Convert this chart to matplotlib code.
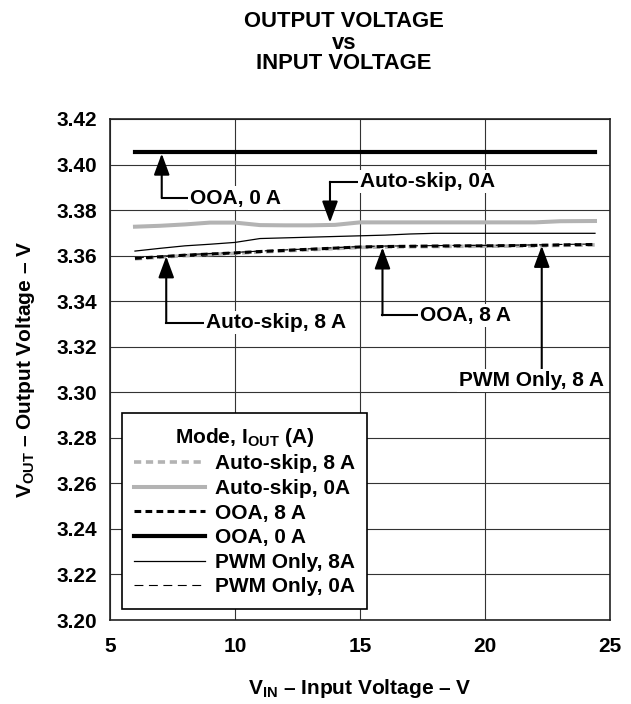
import matplotlib
matplotlib.use("Agg")
import matplotlib.pyplot as plt

# data
vin = [6, 7, 8, 9, 10, 11, 12, 13, 14, 15, 16, 17, 18, 19, 20, 21, 22, 23, 24.4]

autoskip_0a = [3.3727, 3.3731, 3.3737, 3.3745, 3.3745, 3.3734, 3.3733, 3.3733, 3.3735, 3.3746,
               3.3746, 3.3746, 3.3746, 3.3746, 3.3746, 3.3746, 3.3746, 3.3751, 3.3752]
autoskip_8a = [3.3586, 3.3593, 3.3600, 3.3605, 3.3610, 3.3616, 3.3621, 3.3626, 3.3631, 3.3636,
               3.3638, 3.3639, 3.3640, 3.3641, 3.3641, 3.3642, 3.3643, 3.3645, 3.3647]
ooa_8a = [3.3588, 3.3595, 3.3602, 3.3607, 3.3612, 3.3618, 3.3623, 3.3628, 3.3633, 3.3638,
          3.3640, 3.3641, 3.3642, 3.3643, 3.3643, 3.3644, 3.3645, 3.3647, 3.3649]
ooa_0a = [3.4053] * len(vin)
pwm_8a = [3.3620, 3.3632, 3.3643, 3.3650, 3.3658, 3.3675, 3.3678, 3.3681, 3.3684, 3.3687,
          3.3690, 3.3695, 3.3698, 3.3698, 3.3698, 3.3698, 3.3698, 3.3698, 3.3698]
pwm_0a = [3.3590, 3.3597, 3.3604, 3.3609, 3.3614, 3.3620, 3.3625, 3.3630, 3.3635, 3.3640,
          3.3642, 3.3643, 3.3644, 3.3645, 3.3645, 3.3646, 3.3647, 3.3649, 3.3651]

x_ticks = [5, 10, 15, 20, 25]
y_ticks = [3.20, 3.22, 3.24, 3.26, 3.28, 3.30, 3.32, 3.34, 3.36, 3.38, 3.40, 3.42]

# callouts: label, text pos, elbow corner, arrow tip
callouts = [
    ("OOA, 0 A", (8.2, 3.3853), (7.07, 3.3853), (7.07, 3.4048), "left"),
    ("Auto-skip, 0A", (15.0, 3.3924), (13.8, 3.3924), (13.8, 3.3745), "left"),
    ("Auto-skip, 8 A", (8.85, 3.3305), (7.25, 3.3305), (7.25, 3.3597), "left"),
    ("OOA, 8 A", (17.4, 3.3338), (15.9, 3.3338), (15.9, 3.3636), "left"),
    ("PWM Only, 8 A", (24.75, 3.3053), (22.27, 3.3095), (22.27, 3.3643), "right"),
]

plt.rcParams["font.family"] = ["Liberation Sans", "DejaVu Sans"]
plt.rcParams["font.weight"] = "bold"
plt.rcParams["mathtext.fontset"] = "custom"
plt.rcParams["mathtext.rm"] = "Liberation Sans:bold"
plt.rcParams["mathtext.it"] = "Liberation Sans:bold"
plt.rcParams["mathtext.bf"] = "Liberation Sans:bold"

fs = 15

fig = plt.figure(figsize=(6.31, 7.04), dpi=100)
ax = fig.add_axes([0.1743, 0.1193, 0.7924, 0.7117])

gray = "#b3b3b3"
ax.plot(vin, autoskip_8a, color=gray, lw=2.6, dashes=(2, 1.3), label="Auto-skip, 8 A", zorder=3)
ax.plot(vin, autoskip_0a, color=gray, lw=2.9, label="Auto-skip, 0A", zorder=3)
ax.plot(vin, ooa_8a, color="black", lw=2.2, dashes=(2.2, 1.4), label="OOA, 8 A", zorder=4)
ax.plot(vin, ooa_0a, color="black", lw=3.0, label="OOA, 0 A", zorder=4)
ax.plot(vin, pwm_8a, color="black", lw=0.9, label="PWM Only, 8A", zorder=4)
ax.plot(vin, pwm_0a, color="black", lw=0.8, dashes=(8, 5), label="PWM Only, 0A", zorder=4)

for label, tpos, corner, tip, ha in callouts:
    ax.plot([tpos[0], corner[0]] if ha == "left" else [corner[0], corner[0]],
            [tpos[1], corner[1]], color="black", lw=1.5, zorder=5)
    ax.annotate("", xy=tip, xytext=corner,
                arrowprops=dict(arrowstyle="-|>,head_length=1.3,head_width=0.48",
                                color="black", lw=1.5, shrinkA=0, shrinkB=0),
                zorder=6)
    ax.text(tpos[0], tpos[1], label, ha=ha, va="center", fontsize=fs, fontweight="bold",
            bbox=dict(facecolor="white", edgecolor="none", pad=1.5), zorder=7)

ax.set_xlim(5, 25)
ax.set_ylim(3.20, 3.42)
ax.set_xticks(x_ticks)
ax.set_yticks(y_ticks)
ax.set_yticklabels([f"{v:.2f}" for v in y_ticks])
ax.tick_params(length=0, labelsize=fs)
ax.tick_params(axis="x", pad=12)
ax.tick_params(axis="y", pad=9)
ax.grid(True, color="#333333", lw=0.8)
for s in ax.spines.values():
    s.set_linewidth(1.2)
    s.set_color("#222222")

ax.set_xlabel(r"V$_{\mathrm{IN}}$ – Input Voltage – V", fontsize=fs, fontweight="bold", labelpad=15)
ax.set_ylabel(r"V$_{\mathrm{OUT}}$ – Output Voltage – V", fontsize=fs, fontweight="bold", labelpad=14)

leg = ax.legend(loc="lower left", bbox_to_anchor=(0.024, 0.022), borderaxespad=0,
                title=r"Mode, I$_{\mathrm{OUT}}$ (A)", fontsize=fs,
                title_fontproperties={"size": fs, "weight": "bold"},
                handlelength=3.4, handletextpad=0.45, labelspacing=0.27,
                fancybox=False, framealpha=1, edgecolor="black", borderpad=0.6)
leg.get_frame().set_linewidth(1.2)

tfs = 15.8
fig.text(0.545, 0.9700, "OUTPUT VOLTAGE", ha="center", va="center", fontsize=tfs, fontweight="bold")
fig.text(0.545, 0.9380, "vs", ha="center", va="center", fontsize=tfs, fontweight="bold")
fig.text(0.545, 0.9095, "INPUT VOLTAGE", ha="center", va="center", fontsize=tfs, fontweight="bold")

fig.savefig("out.png", dpi=100)
